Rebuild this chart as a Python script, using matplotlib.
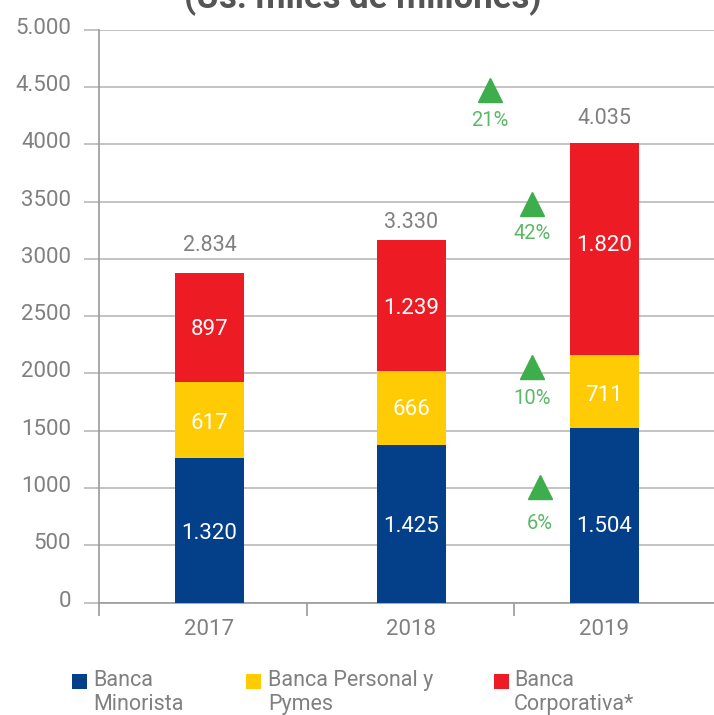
import matplotlib
matplotlib.use("Agg")
import matplotlib.pyplot as plt
from matplotlib.patches import Rectangle
from matplotlib.transforms import ScaledTranslation
from matplotlib import font_manager

# ---------------- data ----------------
years = ["2017", "2018", "2019"]
series_names = ["Banca\nMinorista", "Banca Personal y\nPymes", "Banca\nCorporativa*"]
# segment heights as drawn in the reference
minorista = [1259, 1375, 1524]
personal = [669, 646, 637]
corporativa = [951, 1143, 1852]
# printed labels
minorista_lbl = ["1.320", "1.425", "1.504"]
personal_lbl = ["617", "666", "711"]
corporativa_lbl = ["897", "1.239", "1.820"]
total_lbl = ["2.834", "3.330", "4.035"]
growth_lbl = ["21%", "42%", "10%", "6%"]
yticks = [0, 500, 1000, 1500, 2000, 2500, 3000, 3500, 4000, 4500, 5000]
ytick_lbl = ["0", "500", "1000", "1500", "2000", "2500", "3000", "3500", "4000", "4.500", "5.000"]
title = "(Us. miles de millones)"

# ---------------- style ----------------
avail = {f.name for f in font_manager.fontManager.ttflist}
fam = "Roboto" if "Roboto" in avail else "DejaVu Sans"
plt.rcParams["font.family"] = [fam, "DejaVu Sans"]
WEIGHT = "normal"

C_BLUE = "#043f89"
C_YEL = "#ffcb05"
C_RED = "#ed1c24"
C_GREEN = "#3dae4b"
C_GREEN_T = "#5cb866"
C_GRAY = "#808080"
C_GRID = "#b9b9b9"
C_SPINE = "#9a9a9a"

W, H = 714, 715
fig = plt.figure(figsize=(W / 100, H / 100), dpi=100)
left_px, right_px, top_px, bot_px = 99, 714, 29.6, 602.6
ax = fig.add_axes([left_px / W, 1 - bot_px / H, (right_px - left_px) / W, (bot_px - top_px) / H])

slot = 207.5
xmax = (right_px - left_px) / slot
ax.set_xlim(0, xmax)
ax.set_ylim(0, 5000)

# layout positions (bar centres in slot units)
centers = [0.532, 1.506, 2.435]
bw = 0.333
# label layout (data-y positions of in-bar labels per series, and totals)
inner_y = [[607, 660, 660], [1567, 1681, 1803], [2379, 2562, 3112]]
total_y = [3120, 3321, 4220]

series = [minorista, personal, corporativa]
labels = [minorista_lbl, personal_lbl, corporativa_lbl]
colors = [C_BLUE, C_YEL, C_RED]
bottoms = [0, 0, 0]
for k, (vals, lbls, col) in enumerate(zip(series, labels, colors)):
    ax.bar(centers, vals, width=bw, bottom=bottoms, color=col, zorder=3, linewidth=0)
    for i, l in enumerate(lbls):
        ax.text(centers[i], inner_y[k][i], l, ha="center", va="center",
                color="white", fontsize=16, fontweight=WEIGHT, zorder=4)
    bottoms = [b + v for b, v in zip(bottoms, vals)]

for i, t in enumerate(total_lbl):
    ax.text(centers[i], total_y[i], t, ha="center", va="center",
            color=C_GRAY, fontsize=15.5, fontweight=WEIGHT)

# growth triangles (layout positions)
tri_x = [1.884, 2.087, 2.087, 2.125]
tri_y = [4473, 3478, 2055, 1009]
txt_y = [4211, 3225, 1785, 686]
for x, y, ty, g in zip(tri_x, tri_y, txt_y, growth_lbl):
    ax.plot([x], [y], marker="^", markersize=17, color=C_GREEN, linestyle="none", zorder=5,
            clip_on=False)
    ax.text(x, ty, g, ha="center", va="center", color=C_GREEN_T, fontsize=14.5, fontweight=WEIGHT)

# axes styling
ax.set_yticks(yticks)
ax.set_yticklabels(ytick_lbl)
ax.yaxis.grid(True, color=C_GRID, linewidth=1.2, zorder=0)
ax.set_axisbelow(True)
ax.tick_params(axis="y", length=11, width=1.2, color=C_GRID, pad=9,
               labelsize=16, labelcolor=C_GRAY)
shift = ScaledTranslation(0, 4 / 100, fig.dpi_scale_trans)
for lab in ax.get_yticklabels():
    lab.set_fontweight(WEIGHT)
    lab.set_transform(lab.get_transform() + shift)

ax.set_xticks([0, 1, 2])
ax.set_xticklabels(["", "", ""])
ax.tick_params(axis="x", which="major", length=9, width=1.2, color=C_SPINE)
ax.set_xticks(centers, minor=True)
ax.set_xticklabels(years, minor=True)
ax.tick_params(axis="x", which="minor", length=0, pad=12, labelsize=16, labelcolor=C_GRAY)
for lab in ax.get_xticklabels(minor=True):
    lab.set_fontweight(WEIGHT)

for s in ["top", "right"]:
    ax.spines[s].set_visible(False)
ax.spines["left"].set_color(C_SPINE)
ax.spines["left"].set_linewidth(1.2)
ax.spines["bottom"].set_color(C_SPINE)
ax.spines["bottom"].set_linewidth(1.2)

# title (cut off at the top)
fig.text(363 / W, 1 - 8 / H, title, ha="center", va="baseline", fontsize=25,
         fontweight="bold", color="#555555")

# legend
sq_x = [72, 246, 494]
tx_x = [93, 268, 514]
sq = 15
for name, col, sx, tx in zip(series_names, colors, sq_x, tx_x):
    fig.patches.append(Rectangle((sx / W, 1 - 689 / H), sq / W, sq / H,
                                 transform=fig.transFigure, color=col, linewidth=0))
    fig.text(tx / W, 1 - 670 / H, name, ha="left", va="top", fontsize=15.5,
             color=C_GRAY, fontweight=WEIGHT, linespacing=1.18)

fig.savefig("out.png", dpi=100)
